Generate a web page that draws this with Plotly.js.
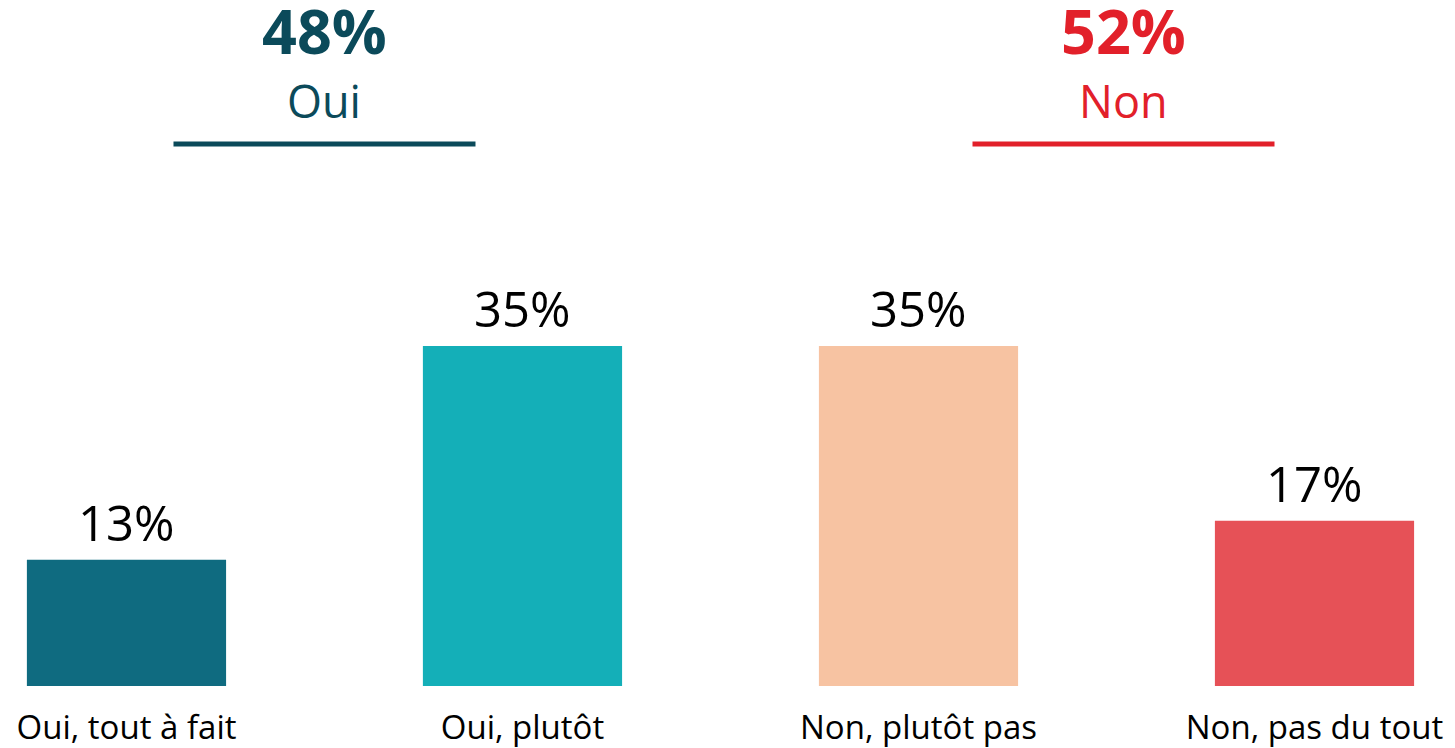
<!DOCTYPE html>
<html>
<head>
<meta charset="utf-8">
<script src="https://cdn.plot.ly/plotly-3.0.1.min.js"></script>
<style>
  html, body { margin: 0; padding: 0; background: #ffffff; }
  #chart { width: 1455px; height: 748px; }
</style>
</head>
<body>
<div id="chart"></div>
<script>
// ---- Data ----
const categories = ['Oui, tout à fait', 'Oui, plutôt', 'Non, plutôt pas', 'Non, pas du tout'];
const values = [13, 35, 35, 17];
const valueLabels = ['13%', '35%', '35%', '17%'];
const barColors = ['#0f6b80', '#14afb8', '#f7c3a2', '#e65157'];

const groupTotals = ['48%', '52%'];
const groupNames = ['Oui', 'Non'];
const groupMembers = [[0, 1], [2, 3]];
const groupColors = ['#0b4a5a', '#e2202a'];
const groupShiftPx = [0, 7];

// ---- Build ----
const FONT = '"Open Sans", "Noto Sans", sans-serif';
const xs = categories.map((c, i) => i);

const trace = {
  type: 'bar',
  x: xs,
  y: values,
  cliponaxis: false,
  marker: { color: barColors, line: { width: 0 } },
  hoverinfo: 'none'
};

const annotations = [];
const shapes = [];

xs.forEach((x, i) => {
  annotations.push({
    x: x, xref: 'x', y: values[i], yref: 'y',
    text: valueLabels[i], showarrow: false,
    xanchor: 'center', yanchor: 'middle', yshift: 38,
    font: { family: FONT, size: 49, color: '#000000' }
  });
});

groupMembers.forEach((m, g) => {
  const cx = (m[0] + m[1]) / 2;
  annotations.push({
    x: cx, xref: 'x', y: 0.955, yref: 'paper', xshift: groupShiftPx[g],
    text: '<b>' + groupTotals[g] + '</b>', showarrow: false,
    xanchor: 'center', yanchor: 'middle',
    font: { family: FONT, size: 61, color: groupColors[g] }
  });
  annotations.push({
    x: cx, xref: 'x', y: 0.854, yref: 'paper', xshift: groupShiftPx[g],
    text: groupNames[g], showarrow: false,
    xanchor: 'center', yanchor: 'middle',
    font: { family: FONT, size: 45, color: groupColors[g] }
  });
  shapes.push({
    type: 'line', xref: 'x', yref: 'paper',
    xsizemode: 'pixel', xanchor: cx,
    x0: -151 + groupShiftPx[g], x1: 151 + groupShiftPx[g],
    y0: 0.790, y1: 0.790,
    line: { color: groupColors[g], width: 5 }
  });
});

const layout = {
  width: 1455, height: 748,
  margin: { l: 0, r: 0, t: 0, b: 62, pad: 0 },
  paper_bgcolor: '#ffffff', plot_bgcolor: '#ffffff',
  showlegend: false,
  bargap: 0.497,
  xaxis: {
    range: [-0.3194, 3.3548],
    tickmode: 'array',
    tickvals: xs,
    ticktext: categories,
    tickfont: { family: FONT, size: 33, color: '#000000' },
    ticklabelstandoff: 19,
    ticks: '', showgrid: false, zeroline: false, showline: false,
    fixedrange: true
  },
  yaxis: {
    range: [0, 70.6],
    visible: false, showgrid: false, zeroline: false, fixedrange: true
  },
  annotations: annotations,
  shapes: shapes
};

Plotly.newPlot('chart', [trace], layout, { displayModeBar: false, staticPlot: true });
</script>
</body>
</html>
